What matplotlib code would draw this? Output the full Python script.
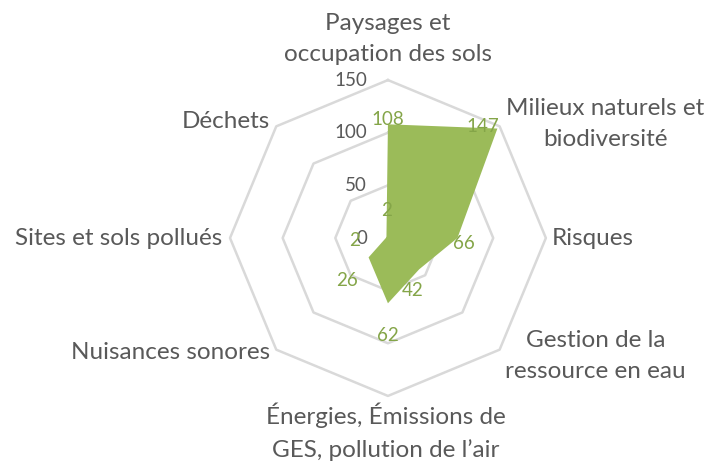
import numpy as np
import matplotlib
matplotlib.use('Agg')
import matplotlib.pyplot as plt

# ── Data ──────────────────────────────────────────────────────────
categories = ['Paysages et\noccupation des sols',
              'Milieux naturels et\nbiodiversité',
              'Risques',
              'Gestion de la\nressource en eau',
              'Énergies, Émissions de\nGES, pollution de l\u2019air',
              'Nuisances sonores',
              'Sites et sols pollués',
              'Déchets']
values = [108, 147, 66, 42, 62, 26, 2, 2]
rings = [50, 100, 150]
tick_labels = ['0', '50', '100', '150']

# layout: label offsets (pixels) and alignments
cat_offsets = [(0, 41), (106, 2), (6, 0), (96, -6), (-2, -36), (-6, -3), (-8, 0), (-6, 5)]
cat_ha = ['center', 'center', 'left', 'center', 'center', 'right', 'right', 'right']
val_offsets = [(0, 5), (-15, 2), (6, -5), (-7, -21), (0, -32), (-22, -23), (-31, -2), (0, 26)]

fill_color = '#9BBB59'
label_green = '#84A548'
text_gray = '#595959'
grid_gray = '#D9D9D9'

plt.rcParams['font.family'] = ['Lato', 'DejaVu Sans']

n = len(categories)
angles = np.linspace(0, 2 * np.pi, n, endpoint=False)

fig = plt.figure(figsize=(7.13, 4.63), dpi=100)
ax = fig.add_axes([0.3226, 0.1447, 0.443, 0.6825], projection='polar')
ax.set_theta_offset(np.pi / 2)
ax.set_theta_direction(-1)
ax.set_ylim(0, 150)
ax.grid(False)
ax.spines['polar'].set_visible(False)
ax.set_xticks([])
ax.set_yticks([])
ax.patch.set_alpha(0)

# octagonal grid
closed = np.append(angles, angles[0])
for r in rings:
    ax.plot(closed, [r] * (n + 1), color=grid_gray, lw=1.8, zorder=1, clip_on=False)

# thin value axis, mostly hidden under the fill
ax.plot([0, 0], [0, 20], color='#A6A6A6', lw=0.8, zorder=1.5)

# data polygon
vals_closed = values + values[:1]
ax.fill(closed, vals_closed, color=fill_color, zorder=2, lw=0)

# radial tick labels along the top axis
for t, lab in zip([0] + rings, tick_labels):
    ax.annotate(lab, xy=(0, t), xytext=(-21, 0), textcoords='offset pixels',
                ha='right', va='center', fontsize=13.5, color=text_gray,
                annotation_clip=False)

# category labels
for a, lab, off, ha in zip(angles, categories, cat_offsets, cat_ha):
    ax.annotate(lab, xy=(a, 150), xytext=off, textcoords='offset pixels',
                ha=ha, va='center', multialignment='center', fontsize=17.5,
                color=text_gray, linespacing=1.6, annotation_clip=False)

# data labels
for a, v, off in zip(angles, values, val_offsets):
    ax.annotate(str(v), xy=(a, v), xytext=off, textcoords='offset pixels',
                ha='center', va='center', fontsize=13.5, color=label_green,
                annotation_clip=False, zorder=3)

plt.savefig('out.png', dpi=100)
